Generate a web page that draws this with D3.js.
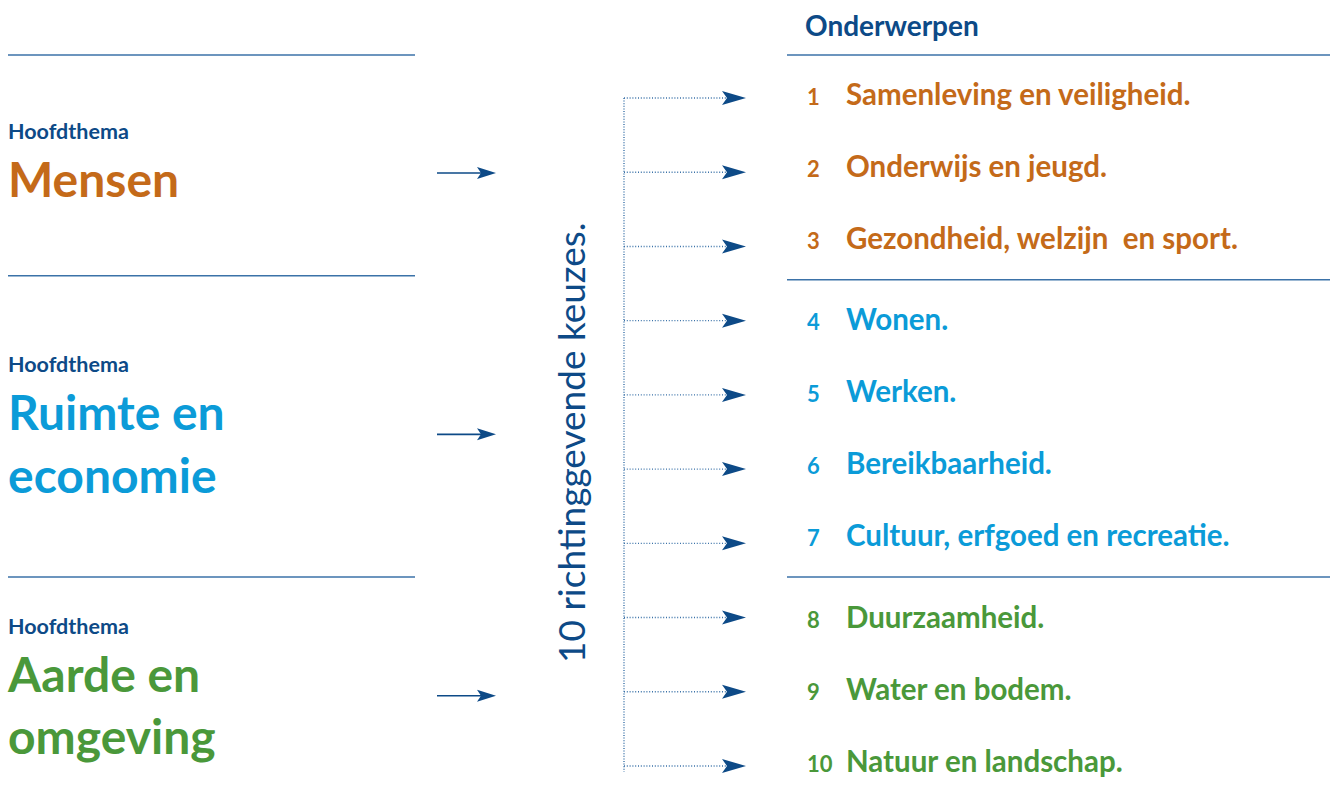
<!DOCTYPE html>
<html>
<head>
<meta charset="utf-8">
<script src="https://cdn.jsdelivr.net/npm/d3@7"></script>
<style>
	body { margin: 0; background: #fff; }
	text { font-family: Lato, "Open Sans", sans-serif; }
</style>
</head>
<body>
<script>

let themes = ["Mensen", "Ruimte en economie", "Aarde en omgeving"];
let themeLines = [["Mensen"], ["Ruimte en", "economie"], ["Aarde en", "omgeving"]];
let themeLabel = "Hoofdthema";
let themeColors = ["#c46a19", "#0b9bd8", "#4a983a"];

let topicNumbers = ["1", "2", "3", "4", "5", "6", "7", "8", "9", "10"];
let topics = ["Samenleving en veiligheid.", "Onderwijs en jeugd.", "Gezondheid, welzijn  en sport.",
	"Wonen.", "Werken.", "Bereikbaarheid.", "Cultuur, erfgoed en recreatie.",
	"Duurzaamheid.", "Water en bodem.", "Natuur en landschap."];
let topicTheme = [0, 0, 0, 1, 1, 1, 1, 2, 2, 2];

let header = "Onderwerpen";
let middleLabel = "10 richtinggevende keuzes.";

let navy = "#0d4a87";
let lineBlue = "#3b72a8";

let svg = d3.select("body").append("svg")
	.attr("width", 1330)
	.attr("height", 796);

// arrow rows and text rows
let arrowY = d3.scaleLinear().domain([0, topics.length - 1]).range([98, 766]);
let textY = d3.scaleLinear().domain([0, 1]).range([95, 167]);
let gap = 0.13;
function rowY(i){ return textY(i + gap * topicTheme[i]); }

// separators between theme groups
let separators = [];
for (var i = 1; i < topics.length; i++) {
	if (topicTheme[i] != topicTheme[i-1]) separators.push((rowY(i) + rowY(i-1)) / 2);
}
let ruleY = [55].concat(separators);

function arrowHead(x, y, len, h, notch){
	return "M" + x + "," + y + "L" + (x - len) + "," + (y - h) + "L" + (x - len + notch) + "," + y + "L" + (x - len) + "," + (y + h) + "Z";
}

// right header
svg.append("text")
	.attr("x", 805)
	.attr("y", 36)
	.attr("fill", navy)
	.attr("font-size", 28)
	.attr("font-weight", 700)
	.text(header);

ruleY.forEach(y =>
	svg.append("line")
	.attr("x1", 787).attr("x2", 1330)
	.attr("y1", y).attr("y2", y)
	.attr("stroke", lineBlue)
	.attr("stroke-width", 1.6)
);

// left rules
ruleY.forEach((y, k) =>
	svg.append("line")
	.attr("x1", 8).attr("x2", 415)
	.attr("y1", k == 1 ? y - 4 : y).attr("y2", k == 1 ? y - 4 : y)
	.attr("stroke", lineBlue)
	.attr("stroke-width", 1.6)
);

// dotted trunk
svg.append("line")
	.attr("x1", 624).attr("x2", 624)
	.attr("y1", arrowY(0)).attr("y2", arrowY(topics.length - 1) + 6)
	.attr("stroke", lineBlue)
	.attr("stroke-width", 1.4)
	.attr("stroke-dasharray", "1,1.6");

for (var i = 0; i < topics.length; i++) {
	let y = arrowY(i);
	let col = themeColors[topicTheme[i]];

	//draw dotted branch
	svg.append("line")
	.attr("x1", 624).attr("x2", 726)
	.attr("y1", y).attr("y2", y)
	.attr("stroke", lineBlue)
	.attr("stroke-width", 1.4)
	.attr("stroke-dasharray", "1,1.8");

	svg.append("path")
	.attr("d", arrowHead(746, y, 24, 7, 5))
	.attr("fill", navy);

	//draw number and topic
	svg.append("text")
	.attr("x", 807)
	.attr("y", rowY(i) + 10)
	.attr("fill", col)
	.attr("font-size", 22)
	.attr("font-weight", 700)
	.text(topicNumbers[i]);

	svg.append("text")
	.attr("x", 846)
	.attr("y", rowY(i) + 10)
	.attr("fill", col)
	.attr("font-size", 29.5)
	.attr("font-weight", 700)
	.style("white-space", "pre")
	.text(topics[i]);
}

// vertical label
svg.append("text")
	.attr("transform", "translate(585,663) rotate(-90)")
	.attr("fill", navy)
	.attr("font-size", 37)
	.attr("font-weight", 400)
	.text(middleLabel);

// left themes
themes.forEach((t, k) => {
	let idx = d3.range(topics.length).filter(i => topicTheme[i] == k);
	let ay = d3.mean(idx, i => rowY(i)) + 6;
	let lines = themeLines[k];
	let first = ay + 24 - (lines.length - 1) * 28;

	svg.append("text")
	.attr("x", 8)
	.attr("y", first - 58)
	.attr("fill", navy)
	.attr("font-size", 21.5)
	.attr("font-weight", 700)
	.text(themeLabel);

	lines.forEach((l, j) =>
		svg.append("text")
		.attr("x", 8)
		.attr("y", first + j * 62.5)
		.attr("fill", themeColors[k])
		.attr("font-size", 48)
		.attr("font-weight", 700)
		.text(l)
	);

	svg.append("line")
	.attr("x1", 437).attr("x2", 482)
	.attr("y1", ay).attr("y2", ay)
	.attr("stroke", navy)
	.attr("stroke-width", 1.6);

	svg.append("path")
	.attr("d", arrowHead(496, ay, 19, 6, 4))
	.attr("fill", navy);
});

</script>
</body>
</html>
